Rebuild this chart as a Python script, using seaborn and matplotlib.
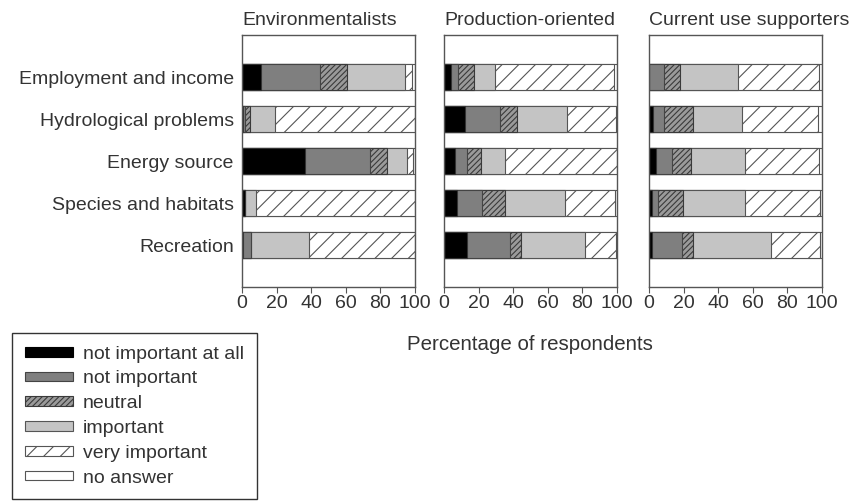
import matplotlib
matplotlib.use("Agg")
import matplotlib.pyplot as plt
from matplotlib.patches import Patch
import seaborn as sns
import pandas as pd
import numpy as np

categories = ["Employment and income", "Hydrological problems", "Energy source",
              "Species and habitats", "Recreation"]
levels = ["not important at all", "not important", "neutral", "important",
          "very important", "no answer"]
groups = ["Environmentalists", "Production-oriented", "Current use supporters"]

# rows = categories, columns = levels (percent)
env_values = [
    [10.9, 34.1, 15.7, 33.5, 4.2, 1.6],
    [0.6, 1.4, 2.5, 14.5, 81.0, 0.0],
    [36.4, 37.8, 9.8, 11.2, 3.8, 1.0],
    [1.6, 0.0, 0.0, 6.7, 91.7, 0.0],
    [0.5, 4.5, 0.0, 33.8, 61.2, 0.0],
]
prod_values = [
    [4.0, 4.3, 9.3, 11.6, 69.3, 1.5],
    [12.2, 20.2, 9.6, 29.0, 28.6, 0.4],
    [6.4, 6.7, 8.3, 13.6, 65.0, 0.0],
    [7.7, 14.5, 12.8, 35.0, 28.6, 1.4],
    [13.5, 24.7, 6.4, 36.7, 18.1, 0.6],
]
cur_values = [
    [0.0, 8.7, 9.3, 33.7, 46.3, 2.0],
    [2.5, 6.2, 16.6, 28.7, 43.7, 2.3],
    [3.9, 9.6, 10.5, 31.6, 42.4, 2.0],
    [1.9, 3.5, 14.1, 36.1, 43.0, 1.4],
    [1.5, 17.5, 6.3, 45.2, 28.5, 1.0],
]
all_values = [env_values, prod_values, cur_values]

colors = ["#000000", "#7f7f7f", "#9a9a9a", "#c4c4c4", "#ffffff", "#ffffff"]
hatches = [None, None, "//////", None, "//", None]
hatch_edges = ["#333333", "#444444", "#3a3a3a", "#555555", "#555555", "#555555"]

sns.set_style("white")
plt.rcParams["font.family"] = ["Liberation Sans", "DejaVu Sans"]
plt.rcParams["hatch.linewidth"] = 0.8
txt = "#333333"

fig = plt.figure(figsize=(8.5, 5.01), dpi=100)
lefts = [242 / 850, 444 / 850, 649 / 850]
axes = [fig.add_axes([l, 1 - 287 / 501, 173 / 850, 252 / 501]) for l in lefts]

for gi, ax in enumerate(axes):
    vals = np.array(all_values[gi])
    cum = np.cumsum(vals, axis=1)
    for li in reversed(range(len(levels))):
        df = pd.DataFrame({"category": categories, "cum": cum[:, li]})
        sns.barplot(data=df, x="cum", y="category", order=categories, orient="h",
                    color=colors[li], saturation=1, width=0.6, errorbar=None,
                    edgecolor=hatch_edges[li], linewidth=0.8,
                    hatch=hatches[li], ax=ax)
    ax.set_xlim(0, 100)
    ax.set_ylim(5, -1)
    ax.set_xticks([0, 20, 40, 60, 80, 100])
    ax.set_xlabel("")
    ax.set_ylabel("")
    ax.tick_params(axis="x", direction="out", length=4, width=0.8, colors="#555555",
                   labelcolor=txt, labelsize=14, pad=2, bottom=True)
    ax.tick_params(axis="y", length=0, labelcolor=txt, labelsize=14, pad=6)
    if gi > 0:
        ax.set_yticklabels([])
    for s in ax.spines.values():
        s.set_visible(True)
        s.set_color("#555555")
        s.set_linewidth(1.0)
    ax.set_title(groups[gi], loc="left", fontsize=14, color=txt, pad=7)

fig.text(530 / 850, 1 - 345 / 501, "Percentage of respondents", ha="center",
         va="center", fontsize=14.8, color=txt)

handles = [Patch(facecolor=colors[i], edgecolor=hatch_edges[i] if i != 0 else "#000000",
                 hatch=hatches[i], linewidth=0.8, label=levels[i])
           for i in range(len(levels))]
leg = fig.legend(handles=handles, loc="upper left",
                 bbox_to_anchor=(12 / 850, 1 - 333 / 501), frameon=True,
                 fancybox=False, edgecolor="#000000", fontsize=14,
                 handlelength=2.5, handleheight=0.4, handletextpad=0.5,
                 labelspacing=0.4, borderpad=0.65, borderaxespad=0)
leg.get_frame().set_linewidth(1.0)
for t in leg.get_texts():
    t.set_color(txt)

fig.savefig("out.png", dpi=100)
